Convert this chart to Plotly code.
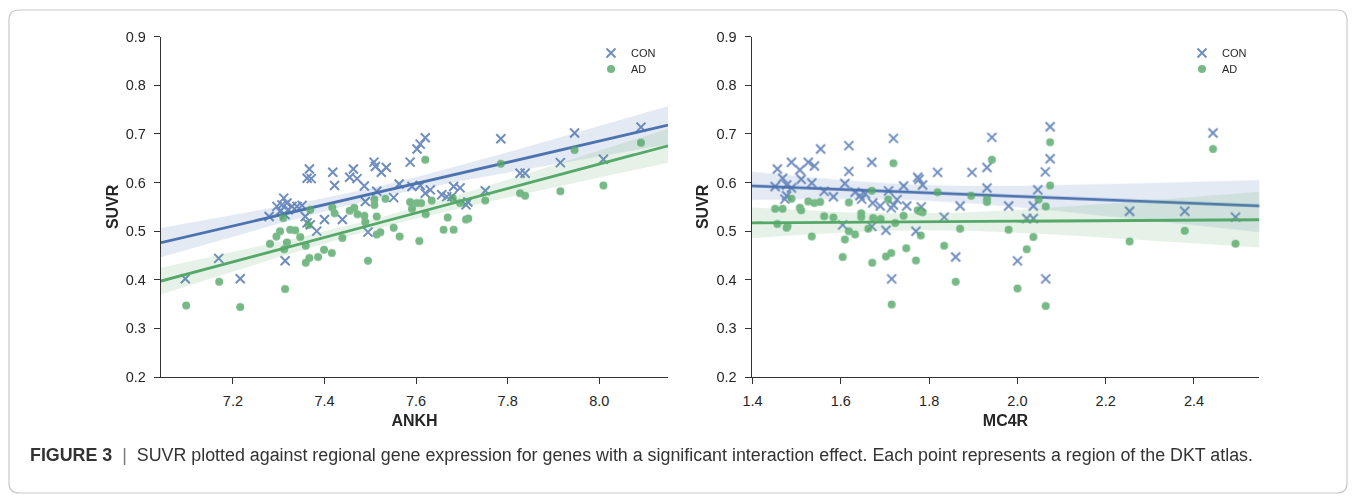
import numpy as np
import plotly.graph_objects as go

# ---------------- data ----------------
ankh_con_x = [7.096, 7.169, 7.216, 7.279, 7.296, 7.311, 7.303, 7.307, 7.318, 7.321, 7.314, 7.329, 7.340, 7.351, 7.314,
              7.358, 7.362, 7.369, 7.367, 7.362, 7.371, 7.383, 7.400, 7.418, 7.422, 7.439,
              7.455, 7.463, 7.471, 7.487, 7.489, 7.495, 7.508, 7.511, 7.514, 7.524, 7.535,
              7.551, 7.563, 7.587, 7.591, 7.602, 7.609, 7.609, 7.620, 7.620, 7.631,
              7.656, 7.667, 7.678, 7.682, 7.696, 7.709, 7.713, 7.751,
              7.785, 7.827, 7.838, 7.915, 7.946, 8.009, 8.091]
ankh_con_y = [0.402, 0.444, 0.402, 0.530, 0.551, 0.568, 0.541, 0.554, 0.558, 0.544, 0.534, 0.551, 0.551, 0.553, 0.439,
              0.530, 0.517, 0.513, 0.628, 0.609, 0.608, 0.500, 0.524, 0.621, 0.594, 0.524,
              0.611, 0.628, 0.608, 0.593, 0.561, 0.498, 0.642, 0.633, 0.582, 0.621, 0.631,
              0.569, 0.597, 0.642, 0.592, 0.669, 0.679, 0.594, 0.692, 0.578, 0.585,
              0.575, 0.571, 0.571, 0.592, 0.589, 0.554, 0.560, 0.583,
              0.690, 0.619, 0.619, 0.641, 0.702, 0.648, 0.714]

ankh_ad_x = [7.098, 7.170, 7.216, 7.314, 7.281, 7.295, 7.303, 7.312, 7.318, 7.325, 7.336, 7.347, 7.359, 7.310,
             7.359, 7.367, 7.386, 7.399, 7.416, 7.439, 7.495, 7.369, 7.365, 7.417, 7.422, 7.455, 7.465,
             7.472, 7.487, 7.489, 7.509, 7.509, 7.514, 7.514, 7.522, 7.533, 7.551, 7.564, 7.587, 7.602,
             7.611, 7.591, 7.607, 7.620, 7.621, 7.634, 7.660, 7.669, 7.680, 7.682, 7.696, 7.709, 7.714,
             7.751, 7.785, 7.827, 7.838, 7.915, 7.946, 8.009, 8.091]
ankh_ad_y = [0.347, 0.396, 0.344, 0.381, 0.474, 0.489, 0.500, 0.463, 0.477, 0.503, 0.502, 0.488, 0.470, 0.527,
             0.435, 0.445, 0.447, 0.462, 0.455, 0.486, 0.439, 0.544, 0.513, 0.549, 0.537, 0.542, 0.548,
             0.535, 0.532, 0.519, 0.565, 0.554, 0.530, 0.493, 0.498, 0.567, 0.507, 0.489, 0.560, 0.558,
             0.558, 0.546, 0.480, 0.647, 0.535, 0.563, 0.503, 0.528, 0.568, 0.503, 0.558, 0.524, 0.526,
             0.563, 0.639, 0.578, 0.573, 0.582, 0.667, 0.594, 0.682]

mc4r_con_x = [1.719, 1.618, 1.554, 1.670, 1.488, 1.526, 1.540, 1.456, 1.507, 1.618, 1.819, 1.897, 1.468, 1.510,
              1.774, 1.777, 1.451, 1.477, 1.488, 1.534, 1.609, 1.785, 1.742, 1.708, 1.562,
              1.632, 1.643, 1.655, 1.647, 1.583, 1.477, 1.473, 1.672, 1.689, 1.714, 1.719, 1.727, 1.749,
              1.782, 1.870, 1.834, 1.604, 1.670, 1.702, 1.770, 1.860, 1.715,
              2.074, 1.942, 2.074, 1.931, 2.063, 1.931, 2.046, 1.980, 2.036, 2.021, 2.036, 2.000, 2.064,
              2.443, 2.254, 2.379, 2.494]
mc4r_con_y = [0.691, 0.676, 0.669, 0.642, 0.642, 0.642, 0.634, 0.628, 0.626, 0.623, 0.621, 0.621, 0.609, 0.607,
              0.611, 0.607, 0.592, 0.595, 0.589, 0.599, 0.598, 0.595, 0.593, 0.583, 0.582,
              0.580, 0.573, 0.577, 0.566, 0.571, 0.573, 0.566, 0.558, 0.552, 0.548, 0.554, 0.565, 0.552,
              0.550, 0.552, 0.529, 0.513, 0.510, 0.502, 0.500, 0.447, 0.402,
              0.715, 0.693, 0.649, 0.631, 0.622, 0.589, 0.585, 0.552, 0.552, 0.526, 0.526, 0.439, 0.402,
              0.702, 0.541, 0.541, 0.529]

mc4r_ad_x = [1.719, 1.488, 1.526, 1.540, 1.553, 1.618, 1.670, 1.707, 1.819, 1.895, 1.451, 1.468, 1.507, 1.510,
             1.562, 1.583, 1.646, 1.646, 1.673, 1.690, 1.742, 1.774, 1.779, 1.785, 1.456, 1.477, 1.479,
             1.534, 1.609, 1.618, 1.632, 1.662, 1.723, 1.781, 1.870, 1.834, 1.748, 1.714, 1.702, 1.770,
             1.604, 1.671, 1.860, 1.715, 1.931, 1.931, 1.942, 1.980, 2.074, 2.074, 2.048, 2.064, 2.036,
             2.021, 2.000, 2.064, 2.254, 2.379, 2.494, 2.443]
mc4r_ad_y = [0.640, 0.567, 0.561, 0.558, 0.560, 0.559, 0.583, 0.565, 0.580, 0.573, 0.546, 0.546, 0.548, 0.543,
             0.531, 0.528, 0.537, 0.529, 0.527, 0.525, 0.532, 0.543, 0.541, 0.539, 0.515, 0.507, 0.510,
             0.489, 0.483, 0.500, 0.493, 0.505, 0.517, 0.491, 0.505, 0.470, 0.465, 0.455, 0.448, 0.440,
             0.447, 0.435, 0.396, 0.349, 0.566, 0.560, 0.647, 0.503, 0.683, 0.594, 0.565, 0.551, 0.488,
             0.463, 0.382, 0.346, 0.479, 0.501, 0.474, 0.669]

groups = ["CON", "AD"]
genes = ["ANKH", "MC4R"]
x_ranges = [[7.043, 8.15], [1.398, 2.548]]
x_ticks = [[7.2, 7.4, 7.6, 7.8, 8.0], [1.4, 1.6, 1.8, 2.0, 2.2, 2.4]]
y_ticks = [0.2, 0.3, 0.4, 0.5, 0.6, 0.7, 0.8, 0.9]
caption = ("<b>FIGURE 3</b>&nbsp;&nbsp;<span style='color:#777777'>|</span>&nbsp;&nbsp;SUVR plotted against "
           "regional gene expression for genes with a significant interaction effect. "
           "Each point represents a region of the DKT atlas.")

# ---------------- style / layout helpers ----------------
COLORS = {"CON": "#4C72B0", "AD": "#55A868"}
BANDS = {"CON": "rgba(76,114,176,0.15)", "AD": "rgba(85,168,104,0.15)"}
FONT = "Liberation Sans, Arial, sans-serif"

W, H = 1356, 503


def xp(px):
    return px / W


def yp(py):
    return 1 - py / H


panel_data = [
    {"CON": (ankh_con_x, ankh_con_y), "AD": (ankh_ad_x, ankh_ad_y)},
    {"CON": (mc4r_con_x, mc4r_con_y), "AD": (mc4r_ad_x, mc4r_ad_y)},
]


def fit_with_ci(x, y, grid):
    x = np.asarray(x)
    y = np.asarray(y)
    n = len(x)
    b, a = np.polyfit(x, y, 1)
    yhat = a + b * grid
    resid = y - (a + b * x)
    s = np.sqrt(np.sum(resid ** 2) / (n - 2))
    sxx = np.sum((x - x.mean()) ** 2)
    se = s * np.sqrt(1.0 / n + (grid - x.mean()) ** 2 / sxx)
    t = 2.0
    return yhat, yhat - t * se, yhat + t * se


fig = go.Figure()

legend_names = [["legend", "legend3"], ["legend2", "legend4"]]
for i, gene in enumerate(genes):
    xa = "x" if i == 0 else "x2"
    ya = "y" if i == 0 else "y2"
    grid = np.linspace(x_ranges[i][0], x_ranges[i][1], 120)
    for k, g in enumerate(groups):
        xs, ys = panel_data[i][g]
        if g == "CON":
            marker = dict(symbol="x-thin", size=9, color=COLORS[g],
                          line=dict(width=2, color=COLORS[g]))
        else:
            marker = dict(symbol="circle", size=8, color=COLORS[g], line=dict(width=0))
        fig.add_trace(go.Scatter(x=xs, y=ys, mode="markers", marker=marker, opacity=0.8,
                                 name=g, xaxis=xa, yaxis=ya, legend=legend_names[i][k],
                                 showlegend=True, hoverinfo="skip"))
        yhat, lo, hi = fit_with_ci(xs, ys, grid)
        fig.add_trace(go.Scatter(x=np.concatenate([grid, grid[::-1]]),
                                 y=np.concatenate([hi, lo[::-1]]),
                                 fill="toself", fillcolor=BANDS[g], line=dict(width=0),
                                 mode="lines", showlegend=False, xaxis=xa, yaxis=ya,
                                 hoverinfo="skip"))
        fig.add_trace(go.Scatter(x=grid, y=yhat, mode="lines",
                                 line=dict(color=COLORS[g], width=2.8),
                                 showlegend=False, xaxis=xa, yaxis=ya, hoverinfo="skip"))

axis_common = dict(showline=True, linecolor="#333333", linewidth=1.3, ticks="outside",
                   ticklen=6, tickwidth=1.3, tickcolor="#333333", showgrid=False,
                   zeroline=False, mirror=False, automargin=False,
                   tickfont=dict(family=FONT, size=14.5, color="#262626"))
title_font = dict(size=16, family=FONT, color="#262626")

ydom = [yp(377), yp(36.7)]
leg_common = dict(xanchor="left", yanchor="top", bgcolor="rgba(0,0,0,0)",
                  font=dict(size=11, family=FONT, color="#262626"))
fig.update_layout(
    template="none", autosize=False,
    width=W, height=H, margin=dict(l=0, r=0, t=0, b=0, pad=0, autoexpand=False),
    paper_bgcolor="white", plot_bgcolor="white",
    font=dict(family=FONT, color="#262626"),
    xaxis=dict(domain=[xp(161), xp(668)], range=x_ranges[0], tickvals=x_ticks[0], tickformat=".1f",
               anchor="y", ticklabelstandoff=4,
               title=dict(text="<b>ANKH</b>", font=title_font, standoff=7), **axis_common),
    yaxis=dict(domain=ydom, range=[0.2, 0.9], tickvals=y_ticks, tickformat=".1f", anchor="x",
               ticklabelstandoff=5,
               title=dict(text="<b>SUVR</b>", font=title_font, standoff=3), **axis_common),
    xaxis2=dict(domain=[xp(751.7), xp(1259.3)], range=x_ranges[1], tickvals=x_ticks[1], tickformat=".1f",
                anchor="y2", ticklabelstandoff=4,
                title=dict(text="<b>MC4R</b>", font=title_font, standoff=7), **axis_common),
    yaxis2=dict(domain=ydom, range=[0.2, 0.9], tickvals=y_ticks, tickformat=".1f", anchor="x2",
                ticklabelstandoff=5,
                title=dict(text="<b>SUVR</b>", font=title_font, standoff=3), **axis_common),
    legend=dict(x=xp(591), y=yp(38.5), **leg_common),
    legend3=dict(x=xp(591), y=yp(54.5), **leg_common),
    legend2=dict(x=xp(1182), y=yp(38.5), **leg_common),
    legend4=dict(x=xp(1182), y=yp(54.5), **leg_common),
    showlegend=True,
)

fig.add_annotation(text=caption, x=xp(28), y=yp(455), xref="paper", yref="paper",
                   xanchor="left", yanchor="middle", showarrow=False,
                   font=dict(family=FONT, size=17.85, color="#333333"))

# rounded border around the figure (pixel coordinates from the top-left corner)
x0, x1, y0, y1, r = 9, 1347, 10, 493, 10
fig.add_shape(type="path", xref="paper", yref="paper", xsizemode="pixel", ysizemode="pixel",
              xanchor=0, yanchor=1,
              path=(f"M {x0 + r},{-y0} L {x1 - r},{-y0} Q {x1},{-y0} {x1},{-(y0 + r)} L {x1},{-(y1 - r)} "
                    f"Q {x1},{-y1} {x1 - r},{-y1} L {x0 + r},{-y1} Q {x0},{-y1} {x0},{-(y1 - r)} "
                    f"L {x0},{-(y0 + r)} Q {x0},{-y0} {x0 + r},{-y0} Z"),
              line=dict(color="#c8c8c8", width=1.2), fillcolor="rgba(0,0,0,0)", layer="below")

fig.write_html("out.html")
